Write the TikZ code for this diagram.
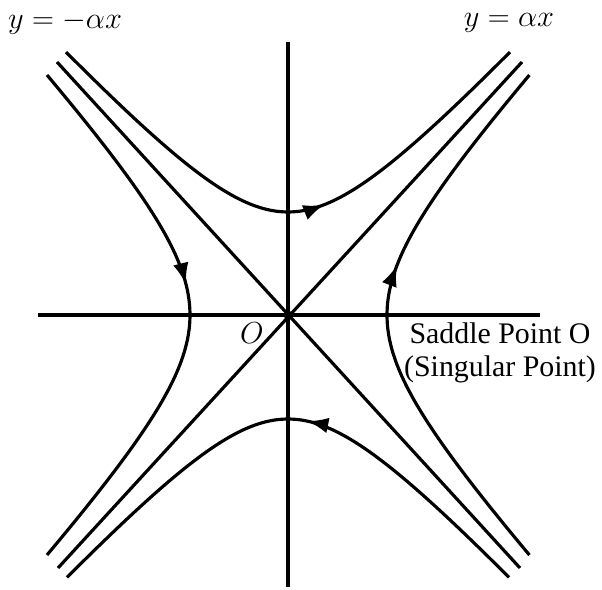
\documentclass[tikz,border=0pt]{standalone}
\usepackage{amsmath}
\usepackage{fontspec}
\setmainfont{Liberation Serif}
\usepackage{tikz}
\usetikzlibrary{
  arrows.meta,%
  % arrows on the trajectories
  decorations.markings,%
  calc
}
\tikzset{>={Latex[length=12pt,width=9pt]}}
\tikzset{font=\fontsize{17}{18.5}\selectfont}

\begin{document}
\begin{tikzpicture}[line width=1.8pt,
    flow/.style={postaction={decorate},
      decoration={markings, mark=at position #1 with {\arrow{>}}}},
    branch/.style={smooth, samples=41}]
  \useasboundingbox (-5.76,-5.48) rectangle (6.28,6.3);
  % axes
  \draw (-5,0) -- (5.04,0);
  \draw (0,-5.44) -- (0,5.46);
  % asymptotes y = +- alpha x
  \draw (-4.62,5.06) -- (4.64,-5.06);
  \draw (4.68,5.06) -- (-4.6,-5.06);
  % trajectories
  \draw[flow=0.567] plot[branch, domain=-4.44:4.44] (\x, {2.06*sqrt(1+(1.09*\x/2.06)^2)});
  \draw[flow=0.465] plot[branch, domain=4.42:-4.42] (\x, {-2.08*sqrt(1+(1.09*\x/2.08)^2)});
  \draw[flow=0.445] plot[branch, domain=4.8:-4.8] ({-1.96*sqrt(1+(\x/(1.09*1.96))^2)}, \x);
  \draw[flow=0.59] plot[branch, domain=-4.8:4.8] ({1.98*sqrt(1+(\x/(1.09*1.98))^2)}, \x);
  % saddle point
  \fill (0,0) circle (0.09);
  \node (orig) at (-0.72,-0.36) {$O$};
  \node[inner sep=1pt] (lneg) at (-4.46,5.84) {$y=-\alpha x$};
  \node[inner sep=1pt] (lpos) at (4.42,5.84) {$y=\alpha x$};
  \node[align=center] (saddle) at (4.24,-0.76) {Saddle Point O\\(Singular Point)};
\end{tikzpicture}
\end{document}
